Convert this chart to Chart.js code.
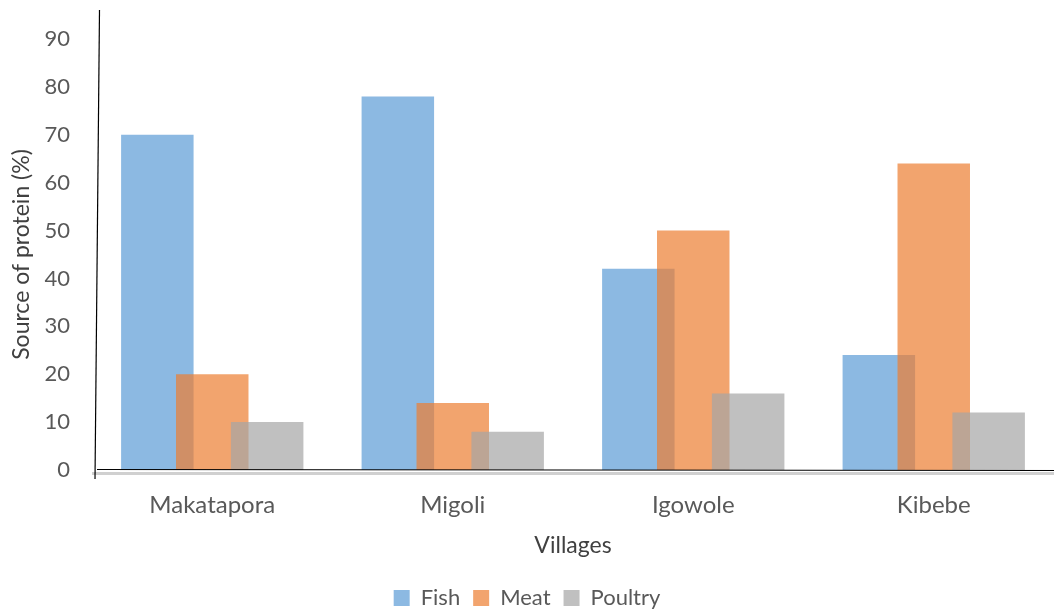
<!DOCTYPE html>
<html>
<head>
<meta charset="utf-8">
<script src="https://cdn.jsdelivr.net/npm/chart.js@4.4.0/dist/chart.umd.min.js"></script>
<style>
  html, body { margin: 0; padding: 0; background: #fff; }
  #wrap { width: 1054px; height: 610px; }
</style>
</head>
<body>
<div id="wrap"><canvas id="chart"></canvas></div>
<script>
const villages = ['Makatapora', 'Migoli', 'Igowole', 'Kibebe'];
const fish = [70, 78, 42, 24];
const meat = [20, 14, 50, 64];
const poultry = [10, 8, 16, 12];
const yTicks = [0, 10, 20, 30, 40, 50, 60, 70, 80, 90];

const font = "Lato, 'Open Sans', sans-serif";

// draw datasets in index order so later series sit on top of earlier ones
const drawInOrder = {
    id: 'drawInOrder',
    beforeDatasetsDraw(chart) {
        chart.data.datasets.forEach((d, i) => {
            const meta = chart.getDatasetMeta(i);
            if (!meta.hidden) meta.controller.draw();
        });
        return false;
    }
};

// hand-drawn looking axis lines from the original figure
const axisLines = {
    id: 'axisLines',
    afterDraw(chart) {
        const ctx = chart.ctx;
        const y0 = chart.scales.y.getPixelForValue(0);
        const left = chart.chartArea.left;
        ctx.save();
        ctx.strokeStyle = '#d0d0d0';
        ctx.lineWidth = 3;
        ctx.beginPath();
        ctx.moveTo(left, y0 + 3.5);
        ctx.lineTo(chart.width, y0 + 3.5);
        ctx.stroke();
        ctx.strokeStyle = '#000';
        ctx.lineWidth = 1.2;
        ctx.beginPath();
        ctx.moveTo(left + 5, y0 - 0.5);
        ctx.lineTo(chart.width, y0 + 0.5);
        ctx.stroke();
        ctx.beginPath();
        ctx.moveTo(left + 7.5, 10);
        ctx.lineTo(left + 3, y0 + 9);
        ctx.stroke();
        ctx.restore();
    }
};

new Chart(document.getElementById('chart'), {
    type: 'bar',
    data: {
        labels: villages,
        datasets: [
            { label: 'Fish', data: fish, backgroundColor: 'rgba(91,155,213,0.7)' },
            { label: 'Meat', data: meat, backgroundColor: 'rgba(237,125,49,0.7)' },
            { label: 'Poultry', data: poultry, backgroundColor: 'rgba(165,165,165,0.7)' }
        ]
    },
    options: {
        responsive: true,
        maintainAspectRatio: false,
        animation: false,
        layout: { padding: { top: 39, right: 0, left: 0, bottom: -9 } },
        datasets: {
            bar: { categoryPercentage: 0.685, barPercentage: 1.32 }
        },
        scales: {
            x: {
                afterFit: s => { s.height = 104; },
                grid: { display: false, drawTicks: false },
                border: { display: false },
                ticks: { color: '#595959', font: { family: font, size: 24 }, padding: 21 },
                title: { display: true, text: 'Villages', color: '#404040', font: { family: font, size: 23 }, padding: { top: 10, bottom: 15 } }
            },
            y: {
                min: 0,
                max: 90,
                afterBuildTicks: s => { s.ticks = yTicks.map(v => ({ value: v })); },
                afterFit: s => { s.width = 92; },
                grid: { display: false, drawTicks: false },
                border: { display: false },
                ticks: { color: '#595959', font: { family: font, size: 22 }, padding: 22 },
                title: { display: true, text: 'Source of protein (%)', color: '#404040', font: { family: font, size: 23 }, padding: { top: 8, bottom: 0 } }
            }
        },
        plugins: {
            legend: {
                position: 'bottom',
                labels: {
                    color: '#595959',
                    font: { family: font, size: 22 },
                    boxWidth: 16,
                    boxHeight: 16,
                    padding: 13,
                    sort: (a, b) => a.datasetIndex - b.datasetIndex
                }
            },
            tooltip: { enabled: false }
        }
    },
    plugins: [drawInOrder, axisLines]
});
</script>
</body>
</html>
